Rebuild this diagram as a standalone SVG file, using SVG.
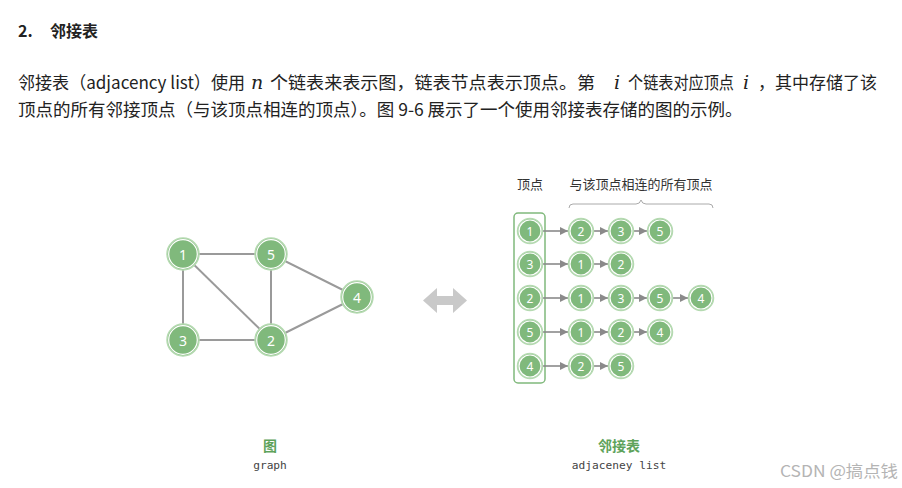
<svg xmlns="http://www.w3.org/2000/svg" width="902" height="488" viewBox="0 0 902 488">
<defs>
<style>
.t{font-family:"Noto Sans CJK SC","Noto Sans",sans-serif;fill:#222;}
.m{font-family:"DejaVu Serif","Liberation Serif",serif;font-style:italic;fill:#222;font-size:19px;}
.edge{stroke:#9a9a9a;stroke-width:2;fill:none;}
.arr{stroke:#8a8a8a;stroke-width:1.6;fill:none;marker-end:url(#ah);}
.nb{fill:#80b97c;stroke:#b5dab1;stroke-width:1.5;}
.ni{fill:none;stroke:#ffffff;stroke-width:1.2;}
.nl{font-family:"Noto Sans","DejaVu Sans",sans-serif;fill:#fff;text-anchor:middle;dominant-baseline:central;}
.cap{font-family:"Noto Sans CJK SC",sans-serif;font-weight:bold;fill:#5ea35b;font-size:14px;text-anchor:middle;}
.mono{font-family:"DejaVu Sans Mono","Liberation Mono",monospace;fill:#444;font-size:11.2px;text-anchor:middle;}
.lbl{font-family:"Noto Sans CJK SC",sans-serif;fill:#333;font-size:13px;text-anchor:middle;}
</style>
<marker id="ah" viewBox="0 0 10 10" refX="10" refY="5" markerWidth="5" markerHeight="5" orient="auto" markerUnits="strokeWidth">
<path d="M0,0 L10,5 L0,10 z" fill="#8a8a8a"/>
</marker>
</defs>
<rect width="902" height="488" fill="#ffffff"/>

<g id="heading">
<text class="t" x="18" y="37" font-size="16" font-weight="bold">2.</text>
<text class="t" x="50" y="37" font-size="16" font-weight="bold">邻接表</text>
</g>

<g id="paragraph">
<text class="t" y="89" font-size="17.5"><tspan x="18" textLength="227" lengthAdjust="spacingAndGlyphs">邻接表（adjacency list）使用</tspan><tspan class="m" x="251">n</tspan><tspan x="270" textLength="325" lengthAdjust="spacingAndGlyphs">个链表来表示图，链表节点表示顶点。第</tspan><tspan class="m" x="614">i</tspan><tspan x="628" textLength="106" lengthAdjust="spacingAndGlyphs">个链表对应顶点</tspan><tspan class="m" x="743">i</tspan><tspan x="758" textLength="119" lengthAdjust="spacingAndGlyphs">，其中存储了该</tspan></text>
<text class="t" x="18" y="116" font-size="17.5">顶点的所有邻接顶点（与该顶点相连的顶点）。图 9-6 展示了一个使用邻接表存储的图的示例。</text>
</g>

<g id="graph-edges">
<line class="edge" x1="183" y1="254" x2="271" y2="254"/>
<line class="edge" x1="183" y1="254" x2="183" y2="340"/>
<line class="edge" x1="183" y1="254" x2="271" y2="340"/>
<line class="edge" x1="183" y1="340" x2="271" y2="340"/>
<line class="edge" x1="271" y1="254" x2="271" y2="340"/>
<line class="edge" x1="271" y1="254" x2="357" y2="297"/>
<line class="edge" x1="271" y1="340" x2="357" y2="297"/>
</g>
<g id="g1"><circle class="nb" cx="183" cy="254" r="16"/><circle class="ni" cx="183" cy="254" r="14.3"/><text class="nl" x="183" y="254" font-size="14">1</text></g>
<g id="g5"><circle class="nb" cx="271" cy="254" r="16"/><circle class="ni" cx="271" cy="254" r="14.3"/><text class="nl" x="271" y="254" font-size="14">5</text></g>
<g id="g4"><circle class="nb" cx="357" cy="297" r="16"/><circle class="ni" cx="357" cy="297" r="14.3"/><text class="nl" x="357" y="297" font-size="14">4</text></g>
<g id="g3"><circle class="nb" cx="183" cy="340" r="16"/><circle class="ni" cx="183" cy="340" r="14.3"/><text class="nl" x="183" y="340" font-size="14">3</text></g>
<g id="g2"><circle class="nb" cx="271" cy="340" r="16"/><circle class="ni" cx="271" cy="340" r="14.3"/><text class="nl" x="271" y="340" font-size="14">2</text></g>

<g id="double-arrow">
<polygon points="423,300.5 437,288 437,296 453,296 453,288 467,300.5 453,313 453,305 437,305 437,313" fill="#c9c9c9"/>
</g>

<g id="list-labels">
<text class="lbl" x="530" y="189">顶点</text>
<text class="lbl" x="641" y="189">与该顶点相连的所有顶点</text>
<path d="M569,208 Q569,204 573,204 L636,204 Q640,204 641,200 Q642,204 646,204 L709,204 Q713,204 713,208" fill="none" stroke="#aaaaaa" stroke-width="1"/>
</g>

<g id="vertex-box">
<rect x="514" y="213" width="31" height="170" rx="4" fill="none" stroke="#80b97c" stroke-width="1.5"/>
</g>

<g id="list-arrows">
<line class="arr" x1="543" y1="231" x2="568" y2="231"/>
<line class="arr" x1="594" y1="231" x2="608" y2="231"/>
<line class="arr" x1="634" y1="231" x2="647" y2="231"/>
<line class="arr" x1="543" y1="264" x2="568" y2="264"/>
<line class="arr" x1="594" y1="264" x2="608" y2="264"/>
<line class="arr" x1="543" y1="298" x2="568" y2="298"/>
<line class="arr" x1="594" y1="298" x2="608" y2="298"/>
<line class="arr" x1="634" y1="298" x2="647" y2="298"/>
<line class="arr" x1="673" y1="298" x2="688" y2="298"/>
<line class="arr" x1="543" y1="332" x2="568" y2="332"/>
<line class="arr" x1="594" y1="332" x2="608" y2="332"/>
<line class="arr" x1="634" y1="332" x2="647" y2="332"/>
<line class="arr" x1="543" y1="366" x2="568" y2="366"/>
<line class="arr" x1="594" y1="366" x2="608" y2="366"/>
</g>

<g id="r1c0"><circle class="nb" cx="530" cy="231" r="12.5"/><circle class="ni" cx="530" cy="231" r="11"/><text class="nl" x="530" y="231" font-size="12">1</text></g>
<g id="r1c1"><circle class="nb" cx="581" cy="231" r="12.5"/><circle class="ni" cx="581" cy="231" r="11"/><text class="nl" x="581" y="231" font-size="12">2</text></g>
<g id="r1c2"><circle class="nb" cx="621" cy="231" r="12.5"/><circle class="ni" cx="621" cy="231" r="11"/><text class="nl" x="621" y="231" font-size="12">3</text></g>
<g id="r1c3"><circle class="nb" cx="660" cy="231" r="12.5"/><circle class="ni" cx="660" cy="231" r="11"/><text class="nl" x="660" y="231" font-size="12">5</text></g>

<g id="r2c0"><circle class="nb" cx="530" cy="264" r="12.5"/><circle class="ni" cx="530" cy="264" r="11"/><text class="nl" x="530" y="264" font-size="12">3</text></g>
<g id="r2c1"><circle class="nb" cx="581" cy="264" r="12.5"/><circle class="ni" cx="581" cy="264" r="11"/><text class="nl" x="581" y="264" font-size="12">1</text></g>
<g id="r2c2"><circle class="nb" cx="621" cy="264" r="12.5"/><circle class="ni" cx="621" cy="264" r="11"/><text class="nl" x="621" y="264" font-size="12">2</text></g>

<g id="r3c0"><circle class="nb" cx="530" cy="298" r="12.5"/><circle class="ni" cx="530" cy="298" r="11"/><text class="nl" x="530" y="298" font-size="12">2</text></g>
<g id="r3c1"><circle class="nb" cx="581" cy="298" r="12.5"/><circle class="ni" cx="581" cy="298" r="11"/><text class="nl" x="581" y="298" font-size="12">1</text></g>
<g id="r3c2"><circle class="nb" cx="621" cy="298" r="12.5"/><circle class="ni" cx="621" cy="298" r="11"/><text class="nl" x="621" y="298" font-size="12">3</text></g>
<g id="r3c3"><circle class="nb" cx="660" cy="298" r="12.5"/><circle class="ni" cx="660" cy="298" r="11"/><text class="nl" x="660" y="298" font-size="12">5</text></g>
<g id="r3c4"><circle class="nb" cx="701" cy="298" r="12.5"/><circle class="ni" cx="701" cy="298" r="11"/><text class="nl" x="701" y="298" font-size="12">4</text></g>

<g id="r4c0"><circle class="nb" cx="530" cy="332" r="12.5"/><circle class="ni" cx="530" cy="332" r="11"/><text class="nl" x="530" y="332" font-size="12">5</text></g>
<g id="r4c1"><circle class="nb" cx="581" cy="332" r="12.5"/><circle class="ni" cx="581" cy="332" r="11"/><text class="nl" x="581" y="332" font-size="12">1</text></g>
<g id="r4c2"><circle class="nb" cx="621" cy="332" r="12.5"/><circle class="ni" cx="621" cy="332" r="11"/><text class="nl" x="621" y="332" font-size="12">2</text></g>
<g id="r4c3"><circle class="nb" cx="660" cy="332" r="12.5"/><circle class="ni" cx="660" cy="332" r="11"/><text class="nl" x="660" y="332" font-size="12">4</text></g>

<g id="r5c0"><circle class="nb" cx="530" cy="366" r="12.5"/><circle class="ni" cx="530" cy="366" r="11"/><text class="nl" x="530" y="366" font-size="12">4</text></g>
<g id="r5c1"><circle class="nb" cx="581" cy="366" r="12.5"/><circle class="ni" cx="581" cy="366" r="11"/><text class="nl" x="581" y="366" font-size="12">2</text></g>
<g id="r5c2"><circle class="nb" cx="621" cy="366" r="12.5"/><circle class="ni" cx="621" cy="366" r="11"/><text class="nl" x="621" y="366" font-size="12">5</text></g>

<g id="captions">
<text class="cap" x="270" y="451">图</text>
<text class="mono" x="270" y="469">graph</text>
<text class="cap" x="619" y="451">邻接表</text>
<text class="mono" x="619" y="469">adjaceney list</text>
</g>

<g id="watermark">
<text x="780" y="477" font-family="Noto Sans CJK SC, Noto Sans, sans-serif" font-size="16" fill="#b4b4b4" textLength="118" lengthAdjust="spacingAndGlyphs">CSDN @搞点钱</text>
</g>
</svg>
